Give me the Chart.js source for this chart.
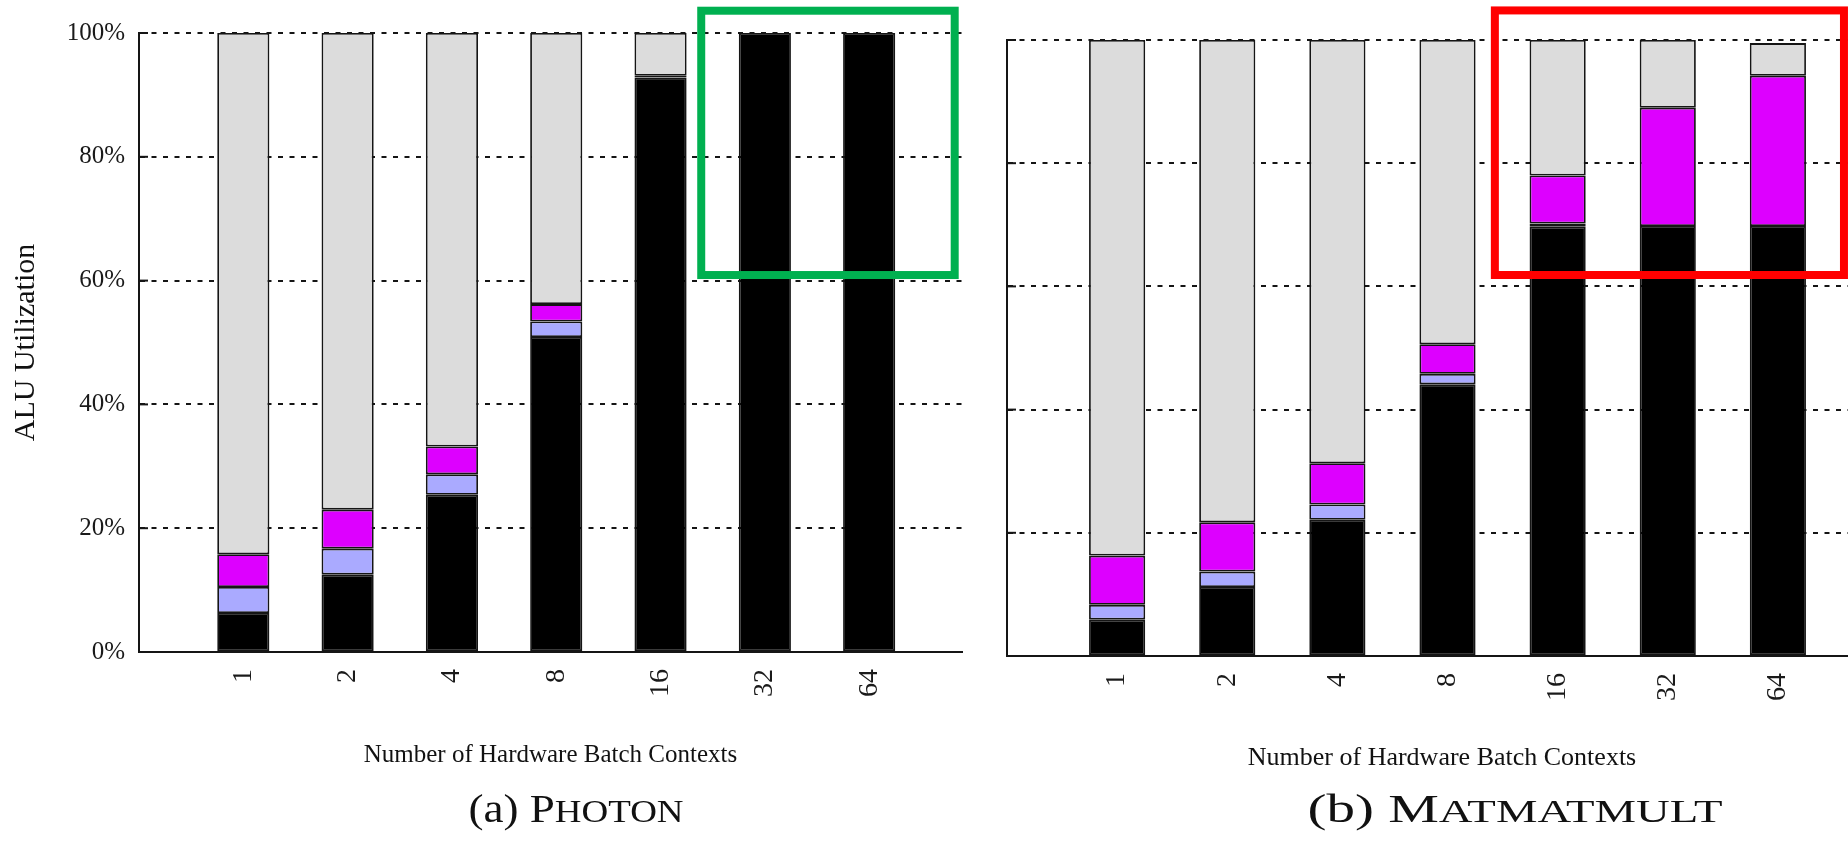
<!DOCTYPE html>
<html>
<head>
<meta charset="utf-8">
<script src="https://cdn.jsdelivr.net/npm/chart.js@4.4.0/dist/chart.umd.min.js"></script>
<style>
  html, body { margin: 0; padding: 0; background: #fff; overflow: hidden; }
  body { width: 1848px; height: 847px; position: relative; font-family: 'Liberation Serif', 'Times New Roman', serif; }
  .panel { position: absolute; top: 0; height: 847px; }
  #left { left: 0; width: 975px; }
  #right { left: 975px; width: 902px; }
  .caption { position: absolute; top: 789px; font-size: 39px; line-height: 1; color: #111; white-space: nowrap; }
  .sc { font-size: 82%; }
</style>
</head>
<body>
<div class="panel" id="left"><canvas id="photon"></canvas></div>
<div class="panel" id="right"><canvas id="matmul"></canvas></div>
<div class="caption" id="capA">(a) P<span class="sc">HOTON</span></div>
<div class="caption" id="capB">(b) M<span class="sc">ATMATMULT</span></div>
<script>
// x categories (hardware batch contexts) and y ticks
const contexts = ['1', '2', '4', '8', '16', '32', '64'];
const yTicks = [0, 20, 40, 60, 80, 100];

// (a) PHOTON, % of ALU cycles per segment, bottom to top
const photonBlack    = [6.3, 12.5, 25.4, 50.9, 92.8, 100, 100];
const photonLavender = [4.2, 4.2, 3.3, 2.5, 0, 0, 0];
const photonMagenta  = [5.3, 6.3, 4.5, 2.8, 0.3, 0, 0];
const photonGray     = [84.2, 77.0, 66.8, 43.8, 6.9, 0, 0];

// (b) MATMATMULT
const matBlack    = [5.9, 11.2, 22.1, 44.1, 69.7, 69.8, 69.8];
const matLavender = [2.4, 2.5, 2.5, 1.7, 0.5, 0, 0];
const matMagenta  = [8.0, 8.0, 6.7, 4.8, 7.8, 19.2, 24.4];
const matGray     = [83.7, 78.3, 68.7, 49.4, 22.0, 11.0, 5.3];

const segColors = ['#000000', '#aaaaff', '#dd00ff', '#dcdcdc'];
const ink = '#151515';

// inward y ticks (gnuplot style) + highlight box
const gnuplotExtras = {
  id: 'gnuplotExtras',
  beforeDatasetsDraw(chart) {
    const { ctx, chartArea, scales: { y } } = chart;
    ctx.save();
    ctx.strokeStyle = ink;
    ctx.lineWidth = 2;
    y.ticks.forEach(t => {
      const py = y.getPixelForValue(t.value);
      ctx.beginPath();
      ctx.moveTo(chartArea.left, py);
      ctx.lineTo(chartArea.left + 9, py);
      ctx.stroke();
    });
    ctx.restore();
  },
  afterDraw(chart, args, opts) {
    if (!opts.box) return;
    const { ctx, scales: { x, y } } = chart;
    const b = opts.box;
    const x0 = x.getPixelForValue(b.x[0]), x1 = x.getPixelForValue(b.x[1]);
    const y0 = y.getPixelForValue(b.y[0]), y1 = y.getPixelForValue(b.y[1]);
    ctx.save();
    ctx.strokeStyle = b.color;
    ctx.lineWidth = 8;
    ctx.strokeRect(x0, y1, x1 - x0, y0 - y1);
    ctx.restore();
  }
};

function makeChart(id, series, o) {
  const names = ['Busy', 'Segment 2', 'Segment 3', 'Idle'];
  const datasets = series.map((vals, k) => ({
    label: names[k],
    data: vals.map((v, i) => ({ x: i + 1, y: v })),
    backgroundColor: segColors[k],
    borderColor: ink,
    borderWidth: 1.8,
    borderSkipped: false,
    categoryPercentage: 1,
    barPercentage: o.barPct
  }));
  return new Chart(document.getElementById(id), {
    type: 'bar',
    data: { datasets },
    plugins: [gnuplotExtras],
    options: {
      responsive: true,
      maintainAspectRatio: false,
      animation: false,
      layout: { padding: { top: o.top, left: 0, right: o.right, bottom: 0 } },
      plugins: {
        legend: { display: false },
        tooltip: { enabled: false },
        gnuplotExtras: { box: o.box }
      },
      scales: {
        x: {
          type: 'linear',
          stacked: true,
          offset: false,
          min: 0,
          max: o.xMax,
          afterFit: s => { s.height = 847 - o.bottom; },
          afterBuildTicks: s => { s.ticks = contexts.map((c, i) => ({ value: i + 1 })); },
          grid: { display: false, drawTicks: false, offset: false },
          border: { display: true, color: ink, width: 2 },
          ticks: {
            autoSkip: false,
            minRotation: 90,
            maxRotation: 90,
            padding: 17,
            color: '#1a1a1a',
            font: { family: 'Liberation Serif', size: 28 },
            callback: v => contexts[v - 1] || ''
          },
          title: {
            display: true,
            text: 'Number of Hardware Batch Contexts',
            color: '#111',
            font: { family: 'Liberation Serif', size: o.xTitleSize },
            padding: { top: 0, bottom: o.xTitlePad }
          }
        },
        y: {
          stacked: true,
          min: 0,
          max: 100,
          afterFit: s => { s.width = o.yWidth; },
          afterBuildTicks: s => { s.ticks = yTicks.map(v => ({ value: v })); },
          grid: { color: ink, lineWidth: 2, drawTicks: false },
          border: { display: true, color: ink, width: 2, dash: [5, 6.5] },
          ticks: {
            display: o.showY,
            padding: 14,
            color: '#1a1a1a',
            font: { family: 'Liberation Serif', size: 25 },
            callback: v => v + '%'
          },
          title: {
            display: o.showY,
            text: 'ALU Utilization',
            color: '#111',
            font: { family: 'Liberation Serif', size: 30 },
            padding: { top: 8, bottom: 0 }
          }
        }
      }
    }
  });
}

makeChart('photon', [photonBlack, photonLavender, photonMagenta, photonGray], {
  top: 33, bottom: 652, right: 13, yWidth: 139, xMax: 7.89, barPct: 0.5, showY: true,
  xTitleSize: 25, xTitlePad: 77,
  box: { x: [5.39, 7.82], y: [60.9, 103.6], color: '#00b050' }
});

makeChart('matmul', [matBlack, matLavender, matMagenta, matGray], {
  top: 40, bottom: 656, right: 0, yWidth: 32, xMax: 7.9, barPct: 0.51, showY: false,
  xTitleSize: 26, xTitlePad: 73,
  box: { x: [4.43, 7.6], y: [61.85, 104.8], color: '#ff0000' }
});

// stretch the captions to the width they have in the figure
function placeCaption(id, centerX, width) {
  const el = document.getElementById(id);
  const k = width / el.offsetWidth;
  el.style.left = centerX + 'px';
  el.style.transform = 'translateX(-50%) scaleX(' + k.toFixed(3) + ')';
}
placeCaption('capA', 576, 215);
placeCaption('capB', 1515, 415);
</script>
</body>
</html>
